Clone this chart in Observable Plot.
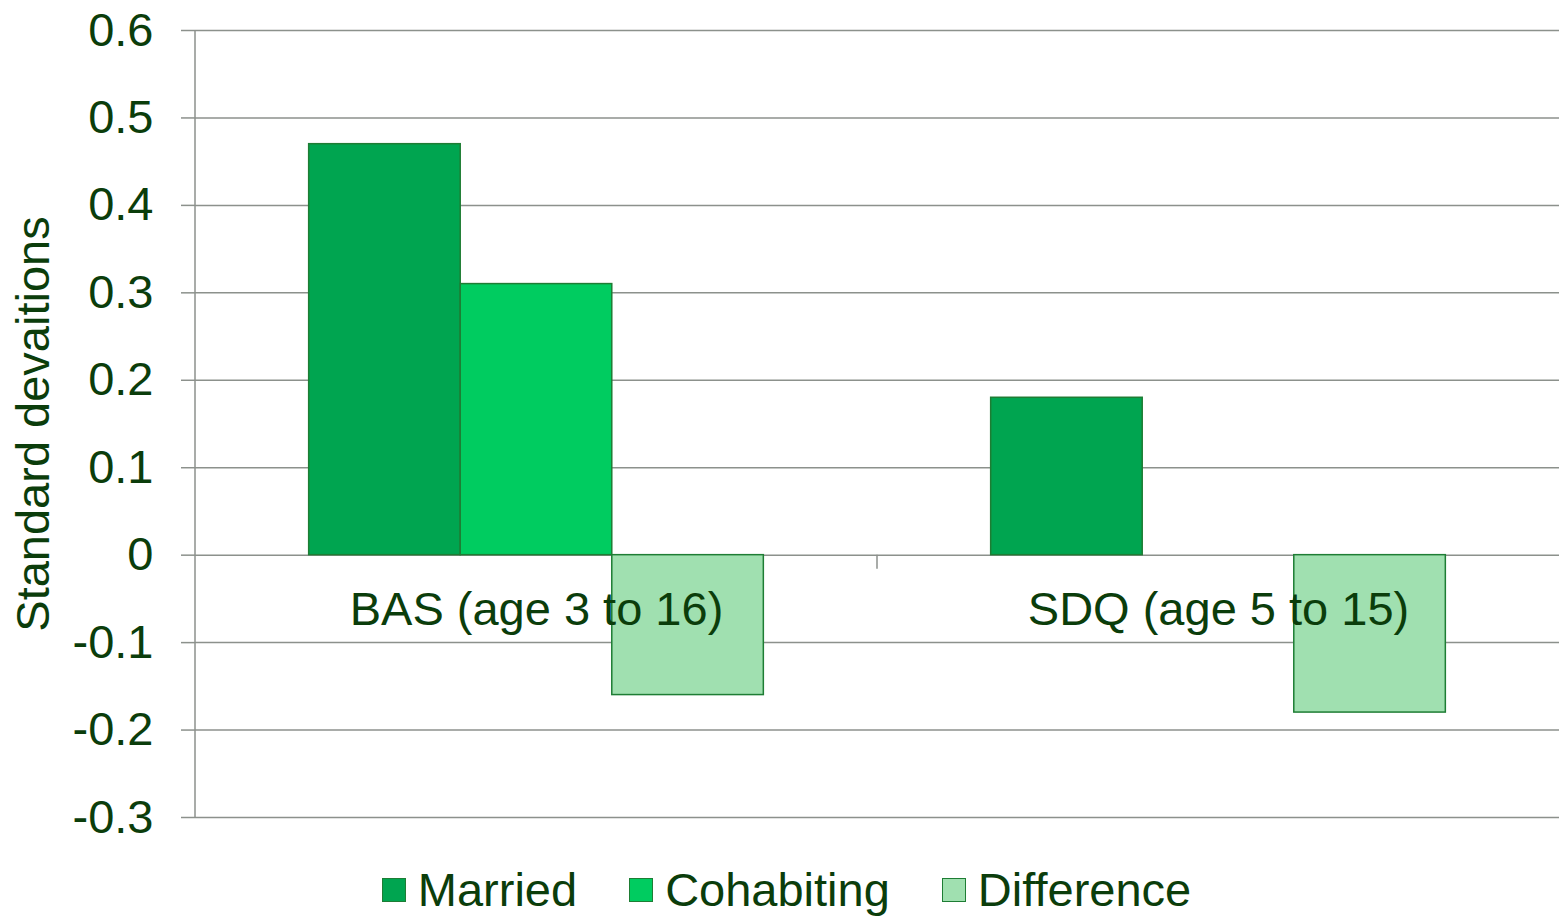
<!DOCTYPE html>
<html>
<head>
<meta charset="utf-8">
<script src="https://cdn.jsdelivr.net/npm/d3@7"></script>
<script src="https://cdn.jsdelivr.net/npm/@observablehq/plot@0.6"></script>
<style>
  html, body { margin: 0; padding: 0; background: #fff; }
  body { width: 1559px; height: 916px; overflow: hidden; position: relative; font-family: "Liberation Sans", Arial, sans-serif; }
  #legend { position: absolute; left: 0; top: 862px; width: 1559px; height: 56px; display: flex; justify-content: center; align-items: center; gap: 52px; padding-left: 14px; box-sizing: border-box; font-size: 47px; color: #0b3d0b; line-height: 56px; }
  .item { display: flex; align-items: center; gap: 12px; }
  .sw { width: 22px; height: 22px; border: 1.5px solid #1e7d34; }
</style>
</head>
<body>
<div id="chart"></div>
<div id="legend"></div>
<script>
const categories = ["BAS (age 3 to 16)", "SDQ (age 5 to 15)"];
const series = ["Married", "Cohabiting", "Difference"];
const married = [0.47, 0.18];
const cohabiting = [0.31, null];
const difference = [-0.16, -0.18];
const yTicks = [-0.3, -0.2, -0.1, 0, 0.1, 0.2, 0.3, 0.4, 0.5, 0.6];
const yTitle = "Standard devaitions";
const colors = ["#00a550", "#00cc60", "#a0e0b0"];

const textColor = "#0b3d0b";
const gridColor = "#8c918c";
const barStroke = "#1e7d34";

const values = [married, cohabiting, difference];
const rows = [];
categories.forEach((c, i) => {
  series.forEach((s, j) => {
    const v = values[j][i];
    if (v != null) rows.push({group: c, series: s, value: v});
  });
});

const W = 1559, H = 846;
const plot = Plot.plot({
  width: W,
  height: H,
  marginLeft: 195,
  marginRight: 0,
  marginTop: 30,
  marginBottom: 29,
  style: {fontFamily: "'Liberation Sans', Arial, sans-serif", fontSize: "47px", color: textColor, background: "#fff", overflow: "visible"},
  fx: {domain: categories, padding: 0, axis: null, round: false},
  x: {domain: series, paddingInner: 0, paddingOuter: 0.75, axis: null, round: false},
  y: {domain: [-0.3, 0.6]},
  color: {domain: series, range: colors},
  marks: [
    Plot.gridY(yTicks, {stroke: gridColor, strokeOpacity: 1, strokeWidth: 1.5}),
    Plot.axisY(yTicks, {
      tickSize: 14, tickPadding: 28, stroke: gridColor, strokeOpacity: 1, strokeWidth: 1.5,
      fill: textColor, fontSize: 47,
      tickFormat: d => d === 0 ? "0" : d.toFixed(1).replace("\u2212", "-"),
      label: yTitle, labelAnchor: "center", labelOffset: 180, labelArrow: false
    }),
    Plot.barY(rows, {fx: "group", x: "series", y: "value", fill: "series", stroke: barStroke, strokeWidth: 1.5}),
    Plot.text(categories, {fx: d => d, text: d => d, y: -0.063, frameAnchor: "middle", fontSize: 47, fill: textColor})
  ]
});
document.getElementById("chart").appendChild(plot);

const svg = d3.select(plot.tagName === "svg" ? plot : plot.querySelector("svg"));
// strip any arrow the label may carry
svg.selectAll("text").each(function() {
  if (this.textContent.includes(yTitle) && this.textContent !== yTitle) this.textContent = yTitle;
});

// axis line and category boundary ticks, positioned from the plot's scales
const fx = plot.scale("fx");
const ys = plot.scale("y");
const left = fx.apply(categories[0]);
svg.append("line")
  .attr("x1", left).attr("x2", left)
  .attr("y1", ys.apply(ys.domain[1])).attr("y2", ys.apply(ys.domain[0]))
  .attr("stroke", gridColor).attr("stroke-width", 1.5);
categories.forEach((c, i) => {
  if (i === 0) return;
  const x = fx.apply(c);
  svg.append("line")
    .attr("x1", x).attr("x2", x)
    .attr("y1", ys.apply(0)).attr("y2", ys.apply(0) + 14)
    .attr("stroke", gridColor).attr("stroke-width", 1.5);
});

const legend = document.getElementById("legend");
series.forEach((s, i) => {
  const item = document.createElement("div");
  item.className = "item";
  const sw = document.createElement("div");
  sw.className = "sw";
  sw.style.background = colors[i];
  const t = document.createElement("span");
  t.textContent = s;
  item.appendChild(sw);
  item.appendChild(t);
  legend.appendChild(item);
});
</script>
</body>
</html>
